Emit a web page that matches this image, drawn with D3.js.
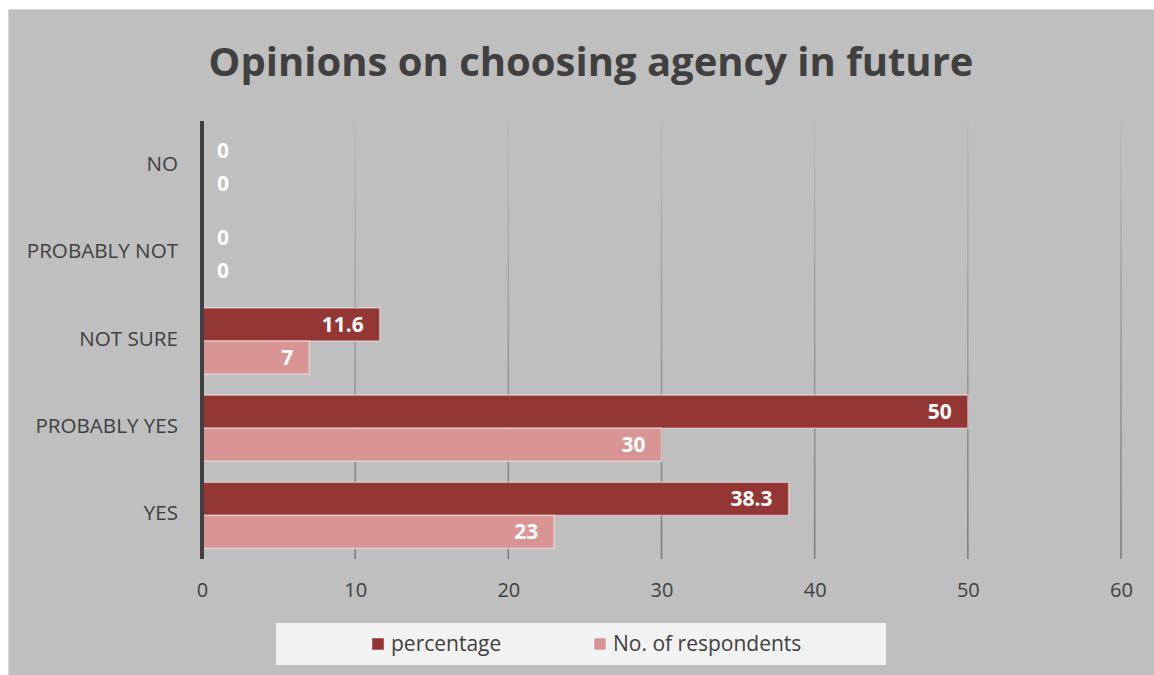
<!DOCTYPE html>
<html>
<head>
<meta charset="utf-8">
<script src="https://cdn.jsdelivr.net/npm/d3@7/dist/d3.min.js"></script>
<style>
  html, body { margin: 0; padding: 0; background: #ffffff; }
  svg { display: block; }
</style>
</head>
<body>
<svg id="chart" width="1154" height="675"></svg>
<script>
// Categories, top to bottom
const categories = ["NO", "PROBABLY NOT", "NOT SURE", "PROBABLY YES", "YES"];
// Series
const seriesNames = ["percentage", "No. of respondents"];
const percentage = [0, 0, 11.6, 50, 38.3];
const respondents = [0, 0, 7, 30, 23];
const xTicks = [0, 10, 20, 30, 40, 50, 60];
const title = "Opinions on choosing agency in future";

const colors = ["#943634", "#d99594"];
const font = "'Open Sans', 'Noto Sans', sans-serif";

const svg = d3.select("#chart");
const W = 1154, H = 675;

// Chart area background
svg.append("rect")
  .attr("x", 8.5).attr("y", 9.5)
  .attr("width", W - 8).attr("height", H - 9)
  .attr("fill", "#bfbfbf")
  .attr("stroke", "#d9d9d9").attr("stroke-width", 1);

// Title
svg.append("text")
  .attr("x", 591).attr("y", 76)
  .attr("text-anchor", "middle")
  .attr("font-family", font)
  .attr("font-weight", 700)
  .attr("font-size", 40)
  .attr("fill", "#404040")
  .text(title);

// Scales
const x = d3.scaleLinear().domain([0, 60]).range([202, 1121]);
const y = d3.scaleBand().domain(categories).range([123, 559]).padding(0);
const yInner = d3.scaleBand().domain(seriesNames)
  .range([0, y.step()]).paddingInner(0).paddingOuter(0.32);

// Gridline gradient (lighter at top, darker at bottom)
const defs = svg.append("defs");
const grad = defs.append("linearGradient")
  .attr("id", "gridGrad")
  .attr("gradientUnits", "userSpaceOnUse")
  .attr("x1", 0).attr("y1", 121).attr("x2", 0).attr("y2", 559);
grad.append("stop").attr("offset", "0%").attr("stop-color", "#bababa");
grad.append("stop").attr("offset", "100%").attr("stop-color", "#7a7a7a");

// Vertical gridlines
const xAxis = d3.axisBottom(x).tickValues(xTicks).tickSize(0).tickPadding(0);
const gx = svg.append("g");
gx.selectAll("line.grid")
  .data(xTicks.filter(d => d !== 0))
  .enter().append("line")
  .attr("class", "grid")
  .attr("x1", d => x(d)).attr("x2", d => x(d))
  .attr("y1", 121).attr("y2", 559)
  .attr("stroke", "url(#gridGrad)")
  .attr("stroke-width", 1.5);

// Tick labels on the value axis
const axisG = svg.append("g").attr("transform", "translate(0,590)").call(xAxis);
axisG.select(".domain").remove();
axisG.selectAll("text")
  .attr("dy", "0.35em")
  .attr("font-family", font)
  .attr("font-size", 20)
  .attr("fill", "#404040");

// Bars
const rows = categories.map((c, i) => ({
  cat: c,
  values: [
    { key: seriesNames[0], value: percentage[i], color: colors[0] },
    { key: seriesNames[1], value: respondents[i], color: colors[1] }
  ]
}));

const groups = svg.append("g").selectAll("g")
  .data(rows).enter().append("g")
  .attr("transform", d => `translate(0,${y(d.cat)})`);

groups.selectAll("rect")
  .data(d => d.values).enter().append("rect")
  .attr("x", x(0))
  .attr("y", d => yInner(d.key))
  .attr("width", d => x(d.value) - x(0))
  .attr("height", yInner.bandwidth())
  .attr("fill", d => d.color)
  .attr("stroke", d => d.value > 0 ? "rgba(255,255,255,0.45)" : "none")
  .attr("stroke-width", 1.5);

// Data labels
groups.selectAll("text.lbl")
  .data(d => d.values).enter().append("text")
  .attr("class", "lbl")
  .attr("x", d => d.value > 0 ? x(d.value) - 16 : x(0) + 15)
  .attr("y", d => yInner(d.key) + yInner.bandwidth() / 2)
  .attr("dy", "0.36em")
  .attr("text-anchor", d => d.value > 0 ? "end" : "start")
  .attr("font-family", font)
  .attr("font-weight", 700)
  .attr("font-size", 21)
  .attr("fill", "#ffffff")
  .text(d => d.value);

// Category axis
const yAxis = d3.axisLeft(y).tickSize(0).tickPadding(0);
const yG = svg.append("g").attr("transform", "translate(178,-2)").call(yAxis);
yG.select(".domain").remove();
yG.selectAll("text")
  .attr("font-family", font)
  .attr("font-size", 20.6)
  .attr("fill", "#404040");

// Zero line
svg.append("line")
  .attr("x1", x(0)).attr("x2", x(0))
  .attr("y1", 121).attr("y2", 559)
  .attr("stroke", "#404040")
  .attr("stroke-width", 4);

// Legend
const legend = svg.append("g");
legend.append("rect")
  .attr("x", 276).attr("y", 623)
  .attr("width", 610).attr("height", 42)
  .attr("fill", "#f2f2f2");
const legendX = [372, 594];
seriesNames.forEach((name, i) => {
  legend.append("rect")
    .attr("x", legendX[i]).attr("y", 638)
    .attr("width", 12).attr("height", 12)
    .attr("fill", colors[i])
    .attr("stroke", "rgba(255,255,255,0.45)")
    .attr("stroke-width", 1);
  legend.append("text")
    .attr("x", legendX[i] + 19).attr("y", 644)
    .attr("dy", "0.35em")
    .attr("font-family", font)
    .attr("font-size", 21)
    .attr("fill", "#404040")
    .text(name);
});
</script>
</body>
</html>
